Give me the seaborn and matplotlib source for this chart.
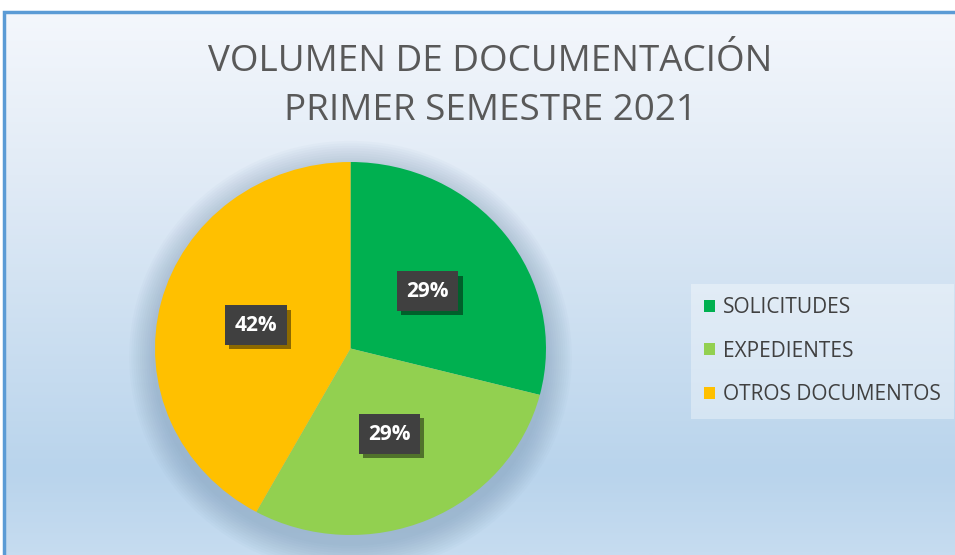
import numpy as np
import matplotlib
matplotlib.use('Agg')
import matplotlib.pyplot as plt
import matplotlib.patheffects as pe
from matplotlib.patches import Ellipse
from matplotlib.colors import LinearSegmentedColormap
import seaborn as sns

# data
categories = ['SOLICITUDES', 'EXPEDIENTES', 'OTROS DOCUMENTOS']
values = [29, 29, 42]
colors = ['#00B050', '#92D050', '#FFC000']
title_lines = ['VOLUMEN DE DOCUMENTACIÓN', 'PRIMER SEMESTRE 2021']

sns.set_theme(style='white')
plt.rcParams['font.family'] = ['Open Sans', 'DejaVu Sans']

W, H = 955, 555
fig = plt.figure(figsize=(W / 100, H / 100), dpi=100)
fig.patch.set_facecolor('white')

# background gradient (chart area)
bg = fig.add_axes([4 / W, 0, 1 - 4 / W + 0.01, (H - 12) / H])
bg_cmap = LinearSegmentedColormap.from_list(
    'bg', [(0.0, '#F4F7FC'), (0.3, '#E1EBF6'), (0.85, '#B9D4EC'), (1.0, '#C6DCF0')])
grad = np.linspace(0, 1, 300).reshape(-1, 1)
bg.imshow(grad, aspect='auto', cmap=bg_cmap, extent=[0, 1, 1, 0])
bg.set_xlim(0, 1)
bg.set_ylim(1, 0)
bg.axis('off')
bg.plot([0, 0, 1], [1, 0, 0], color='#5B9BD5', lw=2.5, clip_on=False,
        solid_capstyle='butt', solid_joinstyle='miter')

# pie axes (slightly elliptical, as in the reference)
cx, cy, rx, ry = 350.5, 348.5, 195.5, 186.5
ax = fig.add_axes([(cx - rx) / W, (H - cy - ry) / H, 2 * rx / W, 2 * ry / H])
ax.patch.set_alpha(0)

# soft shadow
for k in range(12):
    grow = 0.011 * (12 - k)
    ax.add_patch(Ellipse((0, -0.045), 2 * (1 + grow), 2 * (1 + grow * 1.2),
                         facecolor='#6A88A6', alpha=0.035, lw=0, clip_on=False, zorder=0))

wedges, texts, autotexts = ax.pie(
    values, colors=colors, startangle=90, counterclock=False,
    autopct='%1.0f%%', pctdistance=0.5,
    wedgeprops=dict(linewidth=0),
    textprops=dict(color='white', fontsize=15, fontweight='bold'))
for w in wedges:
    w.set_zorder(2)
for t in autotexts:
    t.set_zorder(5)
    t.set_bbox(dict(boxstyle='square,pad=0.45', facecolor='#404040', edgecolor='none'))
    t.get_bbox_patch().set_path_effects(
        [pe.SimplePatchShadow(offset=(3, -3), shadow_rgbFace='black', alpha=0.45), pe.Normal()])
ax.set_aspect('auto')
ax.set_xlim(-1, 1)
ax.set_ylim(-1, 1)
ax.axis('off')

# title
fig.text(490 / W, 1 - 71 / H, title_lines[0], ha='center', va='baseline',
         fontsize=26.5, color='#595959')
fig.text(490 / W, 1 - 120 / H, title_lines[1], ha='center', va='baseline',
         fontsize=26.5, color='#595959')

# legend
leg = fig.legend(wedges, categories, loc='upper left',
                 bbox_to_anchor=(697 / W, 1 - 290 / H),
                 frameon=True, fontsize=15, labelcolor='#404040',
                 handlelength=0.5, handleheight=0.5, handletextpad=0.4,
                 labelspacing=1.08, borderpad=0.35, borderaxespad=0)
leg.get_frame().set_facecolor('white')
leg.get_frame().set_alpha(0.35)
leg.get_frame().set_edgecolor('none')
leg.get_frame().set_boxstyle('square')

fig.savefig('out.png', dpi=100)
